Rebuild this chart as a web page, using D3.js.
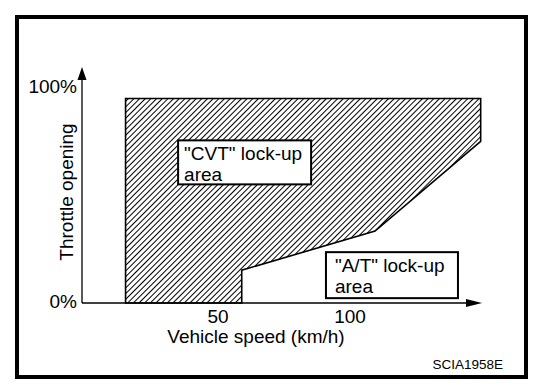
<!DOCTYPE html>
<html>
<head>
<meta charset="utf-8">
<script src="https://cdn.jsdelivr.net/npm/d3@7"></script>
<style>
  body { margin: 0; background: #fff; }
  text { font-family: "Liberation Sans", Arial, sans-serif; fill: #000; }
</style>
</head>
<body>
<div id="chart"></div>
<script>
// x ticks (km/h) and y ticks (throttle %)
var xTicks = [50, 100];
var yTicks = [0, 100];
var yTickLabels = ["0%", "100%"];

// outline of the "CVT" lock-up area: vehicle speed vs throttle opening
var lockSpeed    = [15, 15,   149.5, 149.5, 109.5, 59,   59];
var lockThrottle = [0,  95.3, 95.3,  75.3,  33.5,  15.3, 0];

var cvtLabel = ['"CVT" lock-up', 'area'];
var atLabel  = ['"A/T" lock-up', 'area'];

var width = 560, height = 390;

var svg = d3.select('#chart').append('svg')
    .attr('width', width)
    .attr('height', height);

// hatch pattern
var defs = svg.append('defs');
defs.append('pattern')
    .attr('id', 'hatch')
    .attr('patternUnits', 'userSpaceOnUse')
    .attr('width', 4)
    .attr('height', 4)
    .attr('patternTransform', 'rotate(45)')
  .append('line')
    .attr('x1', 0.5).attr('y1', 0)
    .attr('x2', 0.5).attr('y2', 4)
    .attr('stroke', '#000')
    .attr('stroke-width', 1);

var x = d3.scaleLinear().domain([-1.5, 150]).range([82, 482]);
var y = d3.scaleLinear().domain([0, 110]).range([303, 67]);

// outer frame
svg.append('rect')
    .attr('x', 17).attr('y', 17)
    .attr('width', 509).attr('height', 360)
    .attr('fill', 'none')
    .attr('stroke', '#000')
    .attr('stroke-width', 4);

// hatched area
var pts = lockSpeed.map(function(s, i) { return [x(s), y(lockThrottle[i])]; });
svg.append('path')
    .attr('d', d3.line()(pts) + 'Z')
    .attr('fill', 'url(#hatch)')
    .attr('stroke', '#000')
    .attr('stroke-width', 1.6);

// axes lines
var x0 = x.range()[0], x1 = x.range()[1];
var y0 = y.range()[0], y1 = y.range()[1];
svg.append('line')
    .attr('x1', x0).attr('y1', y0)
    .attr('x2', x1 - 10).attr('y2', y0)
    .attr('stroke', '#000').attr('stroke-width', 1.6);
svg.append('line')
    .attr('x1', x0).attr('y1', y0)
    .attr('x2', x0).attr('y2', y1 + 8)
    .attr('stroke', '#000').attr('stroke-width', 1.3);

// arrow heads
svg.append('path')
    .attr('d', 'M' + x1 + ',' + y0 + 'L' + (x1 - 16) + ',' + (y0 - 4) + 'L' + (x1 - 16) + ',' + (y0 + 4) + 'Z')
    .attr('fill', '#000');
svg.append('path')
    .attr('d', 'M' + x0 + ',' + y1 + 'L' + (x0 - 4.5) + ',' + (y1 + 13) + 'L' + (x0 + 4.5) + ',' + (y1 + 13) + 'Z')
    .attr('fill', '#000');

// tick labels
svg.selectAll('.xt')
    .data(xTicks)
    .enter().append('text')
    .attr('class', 'xt')
    .attr('x', function(d) { return x(d); })
    .attr('y', y0 + 20)
    .attr('text-anchor', 'middle')
    .attr('font-size', 19)
    .text(function(d) { return d; });

svg.selectAll('.yt')
    .data(yTicks)
    .enter().append('text')
    .attr('class', 'yt')
    .attr('x', x0 - 5)
    .attr('y', function(d) { return y(d) + 5; })
    .attr('text-anchor', 'end')
    .attr('font-size', 19)
    .text(function(d, i) { return yTickLabels[i]; });

// axis titles
svg.append('text')
    .attr('x', 256).attr('y', 343)
    .attr('text-anchor', 'middle')
    .attr('font-size', 19)
    .text('Vehicle speed (km/h)');

svg.append('text')
    .attr('transform', 'translate(73,192) rotate(-90)')
    .attr('text-anchor', 'middle')
    .attr('font-size', 19)
    .text('Throttle opening');

// label boxes
function labelBox(lines, sx, ty, w, h, pad) {
    var bx = x(sx), by = y(ty);
    svg.append('rect')
        .attr('x', bx).attr('y', by)
        .attr('width', w).attr('height', h)
        .attr('fill', '#fff')
        .attr('stroke', '#000')
        .attr('stroke-width', 2);
    lines.forEach(function(t, i) {
        svg.append('text')
            .attr('x', bx + pad)
            .attr('y', by + 20 + i * 20.5)
            .attr('font-size', 19)
            .text(t);
    });
}
labelBox(cvtLabel, 34.9, 75.8, 133, 44, 6);
labelBox(atLabel, 90.9, 23.7, 132, 46, 9);

// figure code
svg.append('text')
    .attr('x', 503).attr('y', 369)
    .attr('text-anchor', 'end')
    .attr('font-size', 13.5)
    .text('SCIA1958E');
</script>
</body>
</html>
